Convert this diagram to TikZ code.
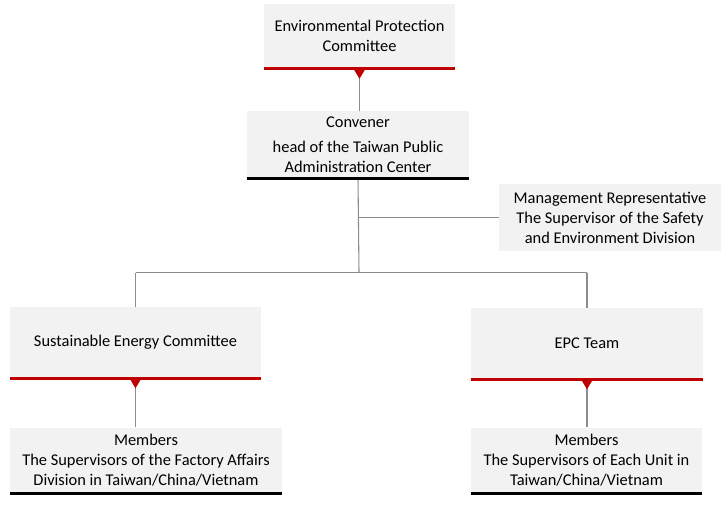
\documentclass[tikz,border=0pt]{standalone}
\usepackage{fontspec}
\setmainfont{Carlito}
\definecolor{boxgray}{HTML}{F2F2F2}
\definecolor{barred}{HTML}{C00000}
\definecolor{linegray}{HTML}{8C8C8C}
\newcommand{\droptri}[1]{\fill[barred] (#1.south) ++(-6,0) -- ++(12,0) -- ++(-6,10) -- cycle;}
\begin{document}
\begin{tikzpicture}[x=0.75pt,y=-0.75pt,
		box/.style={rectangle,fill=boxgray,inner sep=0pt,align=center,
			font=\fontsize{12.3pt}{15pt}\selectfont},
		redbar/.style={draw=barred,line width=2.4pt},
		blackbar/.style={draw=black,line width=2.4pt},
		link/.style={draw=linegray,line width=0.8pt}]
	\useasboundingbox (0,0) rectangle (727,504);

	\node at (359.5, 36.25) [box,minimum width=143.25pt,minimum height=48.4pt] (epc)      {Environmental Protection\\Committee};
	\node at (358,  144.5)  [box,minimum width=166.5pt, minimum height=50.3pt] (convener) {Convener\\[3.5pt]head of the Taiwan Public\\Administration Center};
	\node at (610,  217.5)  [box,minimum width=166.5pt, minimum height=50.3pt] (rep)      {Management Representative\\The Supervisor of the Safety\\and Environment Division};
	\node at (135.5,342.5)  [box,minimum width=188.25pt,minimum height=53.3pt] (sec)      {Sustainable Energy Committee};
	\node at (587,  343.5)  [box,minimum width=174pt,   minimum height=53.3pt] (team)     {EPC Team};
	\node at (146,  460.5)  [box,minimum width=204pt,   minimum height=49.5pt] (members_left)  {Members\\The Supervisors of the Factory Affairs\\Division in Taiwan/China/Vietnam};
	\node at (586.5,460.5)  [box,minimum width=173.25pt,minimum height=49.5pt] (members_right) {Members\\The Supervisors of Each Unit in\\Taiwan/China/Vietnam};

	\coordinate (hub) at (359,272.5);

	% connectors
	\draw[link] (epc.south) -- (epc.south |- convener.north);
	\draw[link] (convener.south) -- (hub);
	\draw[link] (rep.west -| convener.south) -- (rep.west);
	\draw[link] (sec.north |- hub) -- (team.north |- hub);
	\draw[link] (sec.north |- hub) -- (sec.north);
	\draw[link] (team.north |- hub) -- (team.north);
	\draw[link] (sec.south) -- (sec.south |- members_left.north);
	\draw[link] (team.south) -- (team.south |- members_right.north);

	% bottom bars
	\draw[redbar]   (epc.south west) -- (epc.south east);
	\draw[blackbar] (convener.south west) -- (convener.south east);
	\draw[redbar]   (sec.south west) -- (sec.south east);
	\draw[redbar]   (team.south west) -- (team.south east);
	\draw[blackbar] (members_left.south west) -- (members_left.south east);
	\draw[blackbar] (members_right.south west) -- (members_right.south east);

	\droptri{epc}
	\droptri{sec}
	\droptri{team}
\end{tikzpicture}
\end{document}
